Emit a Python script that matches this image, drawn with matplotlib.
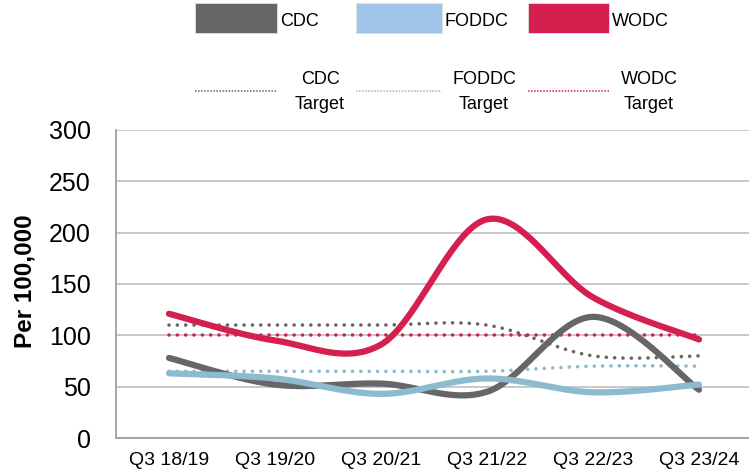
import numpy as np
import matplotlib
matplotlib.use("Agg")
import matplotlib.pyplot as plt
from matplotlib.patches import Rectangle
from matplotlib.lines import Line2D

plt.rcParams['font.family'] = ['Liberation Sans', 'DejaVu Sans']

# ---- data ----
quarters = ["Q3 18/19", "Q3 19/20", "Q3 20/21", "Q3 21/22", "Q3 22/23", "Q3 23/24"]
cdc = [78, 52, 53, 45, 118, 47]
foddc = [63, 58, 43, 58, 44.5, 52]
wodc = [121, 95, 91, 213, 137, 96]
cdc_target = [110, 110, 110, 110, 80, 80]
foddc_target = [65, 65, 65, 65, 70, 70]
wodc_target = [100, 100, 100, 100, 100, 100]

C_CDC = "#666666"
C_FODDC_LINE = "#8DBACD"
C_FODDC_KEY = "#9FC5E8"
C_WODC = "#D41F4F"
KEY_SIZE = 13


def smooth(xs, ys, n=40):
    """Cubic Bezier smoothing through every point (spreadsheet-style)."""
    pts = np.column_stack([xs, ys]).astype(float)
    m = len(pts)
    t = np.linspace(0, 1, n)[:, None]
    segs = []
    for i in range(m - 1):
        p0 = pts[max(i - 1, 0)]
        p1 = pts[i]
        p2 = pts[i + 1]
        p3 = pts[min(i + 2, m - 1)]
        c1 = p1 + (p2 - p0) / 6.0
        c2 = p2 - (p3 - p1) / 6.0
        b = ((1 - t) ** 3) * p1 + 3 * ((1 - t) ** 2) * t * c1 + 3 * (1 - t) * t ** 2 * c2 + t ** 3 * p2
        segs.append(b if i == 0 else b[1:])
    out = np.vstack(segs)
    return out[:, 0], out[:, 1]


W, H = 749, 476
fig = plt.figure(figsize=(W / 100, H / 100), dpi=100)

ax_l, ax_r, ax_t, ax_b = 116, 749, 130, 438
ax = fig.add_axes([ax_l / W, 1 - ax_b / H, (ax_r - ax_l) / W, (ax_b - ax_t) / H])

x = np.arange(len(quarters))
step = 106.0
ax.set_xlim(-0.5, 5 + (ax_r - 699) / step)
ax.set_ylim(0, 300)

# gridlines
ax.set_yticks(np.arange(0, 301, 50))
ax.yaxis.grid(True, color="#BFBFBF", linewidth=1.2)
ax.set_axisbelow(True)

for s in ["top", "right"]:
    ax.spines[s].set_visible(False)
for s in ["left", "bottom"]:
    ax.spines[s].set_color("#A0A0A0")
    ax.spines[s].set_linewidth(1.3)

dot_style = dict(linewidth=2.6, linestyle=(0, (0.01, 2.3)), dash_capstyle="round")
for vals, col in [(cdc_target, C_CDC), (foddc_target, C_FODDC_LINE), (wodc_target, C_WODC)]:
    sx, sy = smooth(x, vals)
    ax.plot(sx, sy, color=col, **dot_style)

for vals, col in [(cdc, C_CDC), (foddc, C_FODDC_LINE), (wodc, C_WODC)]:
    sx, sy = smooth(x, vals)
    ax.plot(sx, sy, color=col, linewidth=4.5, solid_capstyle="round", solid_joinstyle="round")

ax.set_xticks(x)
ax.set_xticklabels(quarters, fontsize=14)
ax.tick_params(axis="x", length=0, pad=10)
ax.tick_params(axis="y", length=0, pad=18, labelsize=18)

ax.set_ylabel("Per 100,000", fontsize=17.5, fontweight="bold", va="center")
ax.yaxis.set_label_coords((25 - ax_l) / (ax_r - ax_l), (ax_b - 281) / (ax_b - ax_t))


# ---- legend drawn in figure pixel coordinates ----
def fx(px):
    return px / W


def fy(py):
    return 1 - py / H


keys = [("CDC", C_CDC, C_CDC, 195, 277, 320),
        ("FODDC", C_FODDC_KEY, C_FODDC_LINE, 356, 442, 484),
        ("WODC", C_WODC, C_WODC, 528, 609, 649)]
for name, patch_col, dot_col, x0, x1, tx in keys:
    fig.add_artist(Rectangle((fx(x0), fy(33)), fx(x1) - fx(x0), fy(3) - fy(33),
                             transform=fig.transFigure, facecolor=patch_col,
                             edgecolor="#E0E0E0", linewidth=0.6))
    fig.text(fx(x1 + 3), fy(21), name, fontsize=KEY_SIZE, ha="left", va="center")
    fig.add_artist(Line2D([fx(x0), fx(x1)], [fy(91), fy(91)], transform=fig.transFigure,
                          color=dot_col, linewidth=1.1, linestyle=(0, (1, 1))))
    fig.text(fx(tx), fy(92), name + "\nTarget", fontsize=KEY_SIZE,
             ha="center", va="center", linespacing=1.55)

fig.savefig("out.png", dpi=100)
